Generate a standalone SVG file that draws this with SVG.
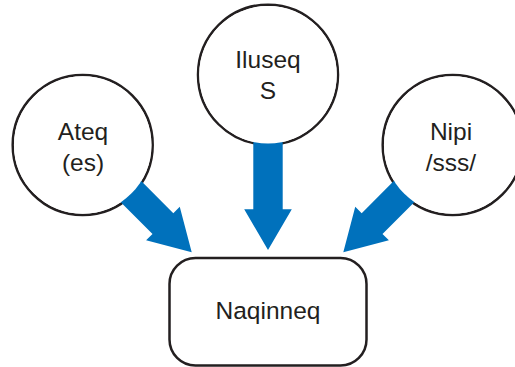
<svg xmlns="http://www.w3.org/2000/svg" width="515" height="367" viewBox="0 0 515 367">
<style>
.node{fill:#fff;stroke:#231f20;stroke-width:2.5}
.cover{fill:#fff;stroke:none}
.arrow{fill:#0071bc}
text{font-family:"Liberation Sans",Arial,sans-serif;font-size:24.5px;fill:#231f20;text-anchor:middle}
</style>
<defs>
<polygon id="arr" points="0,0 -23.8,-40.7 -14.7,-40.7 -14.7,-110 14.7,-110 14.7,-40.7 23.8,-40.7"/>
</defs>
<g id="node-naqinneq">
<rect class="node" x="169.5" y="258" width="197" height="107.5" rx="26" ry="26"/>
<text x="268" y="318.5">Naqinneq</text>
</g>
<g id="circles-back">
<circle class="node" cx="82.7" cy="145" r="70"/>
<circle class="node" cx="268" cy="74.7" r="70"/>
<circle class="node" cx="452.7" cy="145" r="70"/>
</g>
<g id="connectors">
<use href="#arr" class="arrow" transform="translate(191.7,252.3) rotate(-45)"/>
<use href="#arr" class="arrow" transform="translate(268,250)"/>
<use href="#arr" class="arrow" transform="translate(343.3,252.3) rotate(45)"/>
</g>
<g id="node-ateq">
<circle class="cover" cx="82.7" cy="145" r="68.75"/>
<text x="83" y="140">Ateq</text>
<text x="83" y="171">(es)</text>
</g>
<g id="node-iluseq">
<circle class="cover" cx="268" cy="74.7" r="68.75"/>
<text x="268" y="67.7">Iluseq</text>
<text x="268" y="99">S</text>
</g>
<g id="node-nipi">
<circle class="cover" cx="452.7" cy="145" r="68.75"/>
<text x="451" y="140">Nipi</text>
<text x="451" y="171">/sss/</text>
</g>
</svg>
